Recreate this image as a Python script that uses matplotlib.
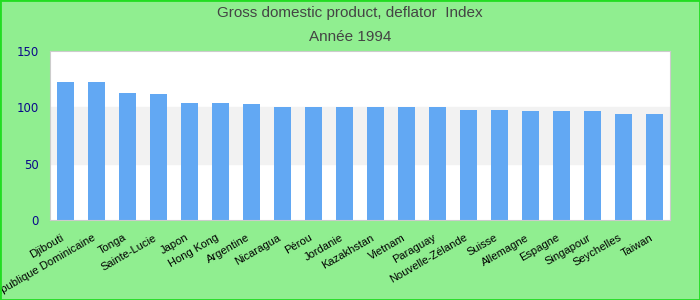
import matplotlib.pyplot as plt
from matplotlib.patches import Rectangle

# Values
countries = ["Djibouti", "République Dominicaine", "Tonga", "Sainte-Lucie", "Japon",
             "Hong Kong", "Argentine", "Nicaragua", "Pérou", "Jordanie",
             "Kazakhstan", "Vietnam", "Paraguay", "Nouvelle-Zélande", "Suisse",
             "Allemagne", "Espagne", "Singapour", "Seychelles", "Taiwan"]
values = [122.5, 122.5, 112.7, 111.8, 103.8,
          103.8, 102.9, 100.3, 100.3, 100.3,
          100.3, 100.3, 100.3, 97.6, 97.6,
          96.7, 96.7, 96.7, 94.1, 94.1]
yticks = [0, 50, 100, 150]

fig = plt.figure(figsize=(7, 3), dpi=100, facecolor="#90ee90")
fig.patches.append(Rectangle((0, 0), 1, 1, transform=fig.transFigure, fill=False,
                             edgecolor="#22dd22", linewidth=2))
ax = fig.add_axes([0.0714, 0.2667, 0.8857, 0.5633])

# light band between 50 and 100
ax.axhspan(50, 100, color="#f2f2f2", zorder=0)
x = range(len(countries))
ax.bar(x, values, width=0.55, color="#62a8f3", zorder=2)

ax.set_xlim(-0.5, len(countries) - 0.5)
ax.set_ylim(0, 150)
ax.set_yticks(yticks)
ax.set_xticks([i - 0.15 for i in x])
ax.set_xticklabels(countries, rotation=30, ha="right", rotation_mode="anchor",
                   fontsize=8, family="Liberation Sans", color="black")
ax.tick_params(axis="y", length=0, labelsize=8.5, labelcolor="#0a0a8a", pad=8)
ax.tick_params(axis="x", length=0, pad=9)
for s in ax.spines.values():
    s.set_color("#cccccc")

fig.text(0.5, 0.955, "Gross domestic product, deflator  Index", ha="center", va="center",
         fontsize=11, color="#444444", family="Liberation Sans")
fig.text(0.5, 0.878, "Année 1994", ha="center", va="center",
         fontsize=11, color="#444444", family="Liberation Sans")

fig.savefig("out.png", facecolor=fig.get_facecolor())
